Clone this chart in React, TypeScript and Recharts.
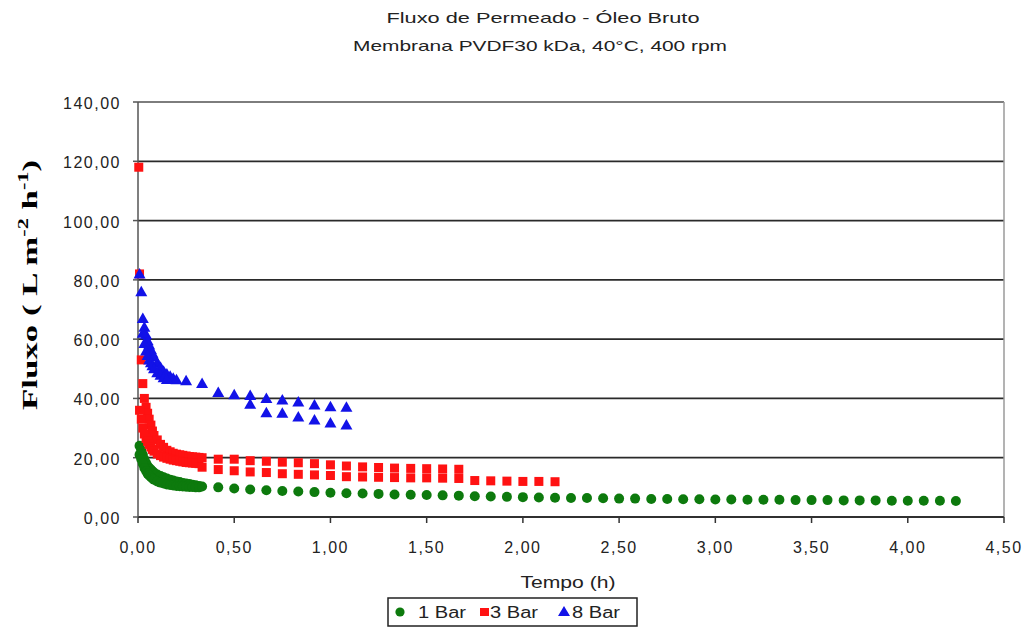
import React from "react";
import {
  ScatterChart,
  Scatter,
  XAxis,
  YAxis,
  CartesianGrid,
  ReferenceLine,
} from "recharts";

// tempo (h) das leituras iniciais (a cada ~30 s) e das leituras a cada 5 min
const TIME_EARLY = [
  0.008, 0.017, 0.025, 0.033, 0.042, 0.05, 0.058, 0.067, 0.075, 0.083, 0.1, 0.117,
  0.133, 0.15, 0.167, 0.183, 0.2, 0.217, 0.233, 0.25, 0.267, 0.283, 0.3, 0.317,
];
const TIME_5MIN = [
  0.25, 0.333, 0.417, 0.5, 0.583, 0.667, 0.75, 0.833, 0.917, 1.0, 1.083, 1.167, 1.25,
  1.333, 1.417, 1.5, 1.583, 1.667, 1.75, 1.833, 1.917, 2.0, 2.083, 2.167, 2.25, 2.333,
  2.417, 2.5, 2.583, 2.667, 2.75, 2.833, 2.917, 3.0, 3.083, 3.167, 3.25, 3.333, 3.417,
  3.5, 3.583, 3.667, 3.75, 3.833, 3.917, 4.0, 4.083, 4.167, 4.25,
];

// 1 Bar
const BAR1_EARLY_A = [
  24, 22.5, 21, 19.5, 18.2, 17.2, 16.5, 16, 15.4, 15, 14.3, 13.8, 13.4, 13, 12.6, 12.3,
  12, 11.8, 11.5, 11.3, 11.1, 10.9, 10.7, 10.5,
];
const BAR1_EARLY_B = [
  21, 19.5, 18, 16.5, 15.5, 14.6, 14, 13.5, 13, 12.6, 12, 11.6, 11.3, 11, 10.8, 10.6,
  10.5, 10.4, 10.3, 10.2, 10.1, 10.1, 10, 10,
];
// a partir de 0,333 h
const BAR1_5MIN = [
  10.3, 10.0, 9.6, 9.3, 9.0, 8.8, 8.6, 8.4, 8.2, 8.0, 7.9, 7.8, 7.6, 7.5, 7.4, 7.3, 7.2,
  7.0, 6.9, 6.8, 6.7, 6.6, 6.5, 6.4, 6.4, 6.3, 6.2, 6.2, 6.1, 6.1, 6.0, 6.0, 5.9, 5.9,
  5.8, 5.8, 5.8, 5.7, 5.7, 5.7, 5.6, 5.6, 5.6, 5.5, 5.5, 5.5, 5.5, 5.4,
];

// 3 Bar
const BAR3_PEAK = { t: 0.004, v: 118 };
const BAR3_EARLY_A = [
  82, 53, 45, 40, 37, 35, 33, 31, 29, 27.5, 26, 24.5, 23.5, 22.5, 22, 21.5, 21.2, 21,
  20.8, 20.6, 20.4, 20.3, 20.2, 20.1,
];
const BAR3_EARLY_B = [
  36, 33, 30, 28, 26.5, 25.5, 24.5, 23.6, 22.8, 22.2, 21.3, 20.7, 20.2, 19.8, 19.5, 19.2,
  19, 18.8, 18.6, 18.4, 18.3, 18.2, 18.1, 18,
];
// a partir de 0,333 h
const BAR3_5MIN_A = [
  20, 19.5, 19.5, 19, 18.8, 18.5, 18.3, 18, 17.6, 17.2, 16.9, 16.7, 16.5, 16.4, 16.3,
  16.2, 16.1, 12.3, 12.2, 12.1, 12.0, 12.0, 11.9,
];
const BAR3_5MIN_B = [
  16.8, 16, 15.6, 15.2, 15, 14.6, 14.4, 14.2, 14, 13.6, 13.5, 13.4, 13.3, 13.2, 13.2,
  13.1, 13.0,
];

// 8 Bar
const BAR8_EARLY_A = [
  82, 76, 67, 64, 61.5, 59.5, 58, 56.5, 55.2, 54, 52, 50.5, 49.2, 48.2, 47.5, 46.8, 46.3,
];
// a partir de 0,025 h
const BAR8_EARLY_B = [62, 58.5, 56, 54.5, 53, 52, 51, 50, 48.7, 47.8, 47, 46.4];
// a partir de 0,25 h
const BAR8_5MIN_A = [46, 45, 42, 41.2, 41, 40, 39.5, 38.8, 37.8, 37.2, 37];
// a partir de 0,583 h
const BAR8_5MIN_B = [38, 35.2, 35, 33.7, 32.7, 31.7, 31];

const X_TICKS = [0, 0.5, 1, 1.5, 2, 2.5, 3, 3.5, 4, 4.5];
const Y_TICKS = [0, 20, 40, 60, 80, 100, 120, 140];

const GREEN = "#0d7a0d";
const RED = "#ff1212";
const BLUE = "#1212e8";
const FONT = "'Liberation Sans', Arial, sans-serif";

const zip = (times: number[], values: number[]) =>
  values.map((v, i) => ({ x: times[i], y: v }));

const bar1 = [
  ...zip(TIME_EARLY, BAR1_EARLY_A),
  ...zip(TIME_EARLY, BAR1_EARLY_B),
  ...zip(TIME_5MIN.slice(1), BAR1_5MIN),
];
const bar3 = [
  { x: BAR3_PEAK.t, y: BAR3_PEAK.v },
  ...zip(TIME_EARLY, BAR3_EARLY_A),
  ...zip(TIME_EARLY, BAR3_EARLY_B),
  ...zip(TIME_5MIN.slice(1), BAR3_5MIN_A),
  ...zip(TIME_5MIN.slice(1), BAR3_5MIN_B),
];
const bar8 = [
  ...zip(TIME_EARLY, BAR8_EARLY_A),
  ...zip(TIME_EARLY.slice(2), BAR8_EARLY_B),
  ...zip(TIME_5MIN, BAR8_5MIN_A),
  ...zip(TIME_5MIN.slice(4), BAR8_5MIN_B),
];

const fmt = (v: number) => v.toFixed(2).replace(".", ",");

const Dot = (p: any) => <circle cx={p.cx} cy={p.cy} r={5} fill={GREEN} />;
const Square = (p: any) => (
  <rect x={p.cx - 4.5} y={p.cy - 4.5} width={9} height={9} fill={RED} />
);
const Triangle = (p: any) => (
  <polygon
    points={`${p.cx},${p.cy - 6} ${p.cx + 6},${p.cy + 4.5} ${p.cx - 6},${p.cy + 4.5}`}
    fill={BLUE}
  />
);

const YTick = ({ x, y, payload }: any) => (
  <text x={x} y={y} dy={7} textAnchor="end" fontSize={16} letterSpacing={1.5} fill="#222" fontFamily={FONT}>
    {fmt(payload.value)}
  </text>
);
const XTick = ({ x, y, payload }: any) => (
  <text x={x} y={y} dy={28} textAnchor="middle" fontSize={16} letterSpacing={1.5} fill="#222" fontFamily={FONT}>
    {fmt(payload.value)}
  </text>
);

export default function App() {
  return (
    <div style={{ position: "absolute", left: 0, top: 0, width: 1026, height: 628, background: "#fff" }}>
      <ScatterChart width={1026} height={628} margin={{ top: 102, right: 22, bottom: 71, left: 0 }}>
        <CartesianGrid horizontal vertical={false} stroke="#2a2a2a" strokeWidth={1.8} />
        <XAxis
          type="number"
          dataKey="x"
          domain={[0, 4.5]}
          ticks={X_TICKS}
          height={40}
          tick={<XTick />}
          tickSize={6}
          axisLine={{ stroke: "#333", strokeWidth: 1.5 }}
          tickLine={{ stroke: "#333", strokeWidth: 1.5 }}
        />
        <YAxis
          type="number"
          dataKey="y"
          domain={[0, 140]}
          ticks={Y_TICKS}
          width={138}
          tick={<YTick />}
          tickSize={5}
          tickMargin={12}
          axisLine={{ stroke: "#555", strokeWidth: 1.5 }}
          tickLine={{ stroke: "#555", strokeWidth: 1.5 }}
        />
        <ReferenceLine y={140} stroke="#9a9a9a" strokeWidth={1.5} />
        <ReferenceLine x={4.5} stroke="#9a9a9a" strokeWidth={1.5} />
        <Scatter name="1 Bar" data={bar1} shape={Dot} isAnimationActive={false} />
        <Scatter name="3 Bar" data={bar3} shape={Square} isAnimationActive={false} />
        <Scatter name="8 Bar" data={bar8} shape={Triangle} isAnimationActive={false} />
      </ScatterChart>
      <svg
        width={1026}
        height={628}
        style={{ position: "absolute", left: 0, top: 0, pointerEvents: "none" }}
      >
        <g fontFamily={FONT} fill="#222" fontSize={15}>
          <text x={543} y={23} textAnchor="middle" textLength={313} lengthAdjust="spacingAndGlyphs">
            Fluxo de Permeado - Óleo Bruto
          </text>
          <text x={540} y={51} textAnchor="middle" textLength={374} lengthAdjust="spacingAndGlyphs">
            Membrana PVDF30 kDa, 40°C, 400 rpm
          </text>
          <text x={568} y={588} textAnchor="middle" fontSize={16} textLength={95} lengthAdjust="spacingAndGlyphs">
            Tempo (h)
          </text>
        </g>
        <text
          transform="translate(37 285) rotate(-90)"
          textAnchor="middle"
          fontFamily="'Liberation Serif', 'Times New Roman', serif"
          fontWeight="bold"
          fontSize={22}
          fill="#000"
          textLength={250}
          lengthAdjust="spacingAndGlyphs"
        >
          Fluxo ( L m
          <tspan fontSize={14} dy={-9}>-2</tspan>
          <tspan dy={9}> h</tspan>
          <tspan fontSize={14} dy={-9}>-1</tspan>
          <tspan dy={9}>)</tspan>
        </text>
        <g fontFamily={FONT} fill="#222" fontSize={16}>
          <rect x={388} y={598} width={249} height={28} fill="#fff" stroke="#222" strokeWidth={1.5} />
          <circle cx={400} cy={612} r={4.6} fill={GREEN} />
          <text x={418} y={618} textLength={48} lengthAdjust="spacingAndGlyphs">1 Bar</text>
          <rect x={480} y={608} width={9} height={8} fill={RED} />
          <text x={490} y={618} textLength={48} lengthAdjust="spacingAndGlyphs">3 Bar</text>
          <polygon points="564,606 570,616 558,616" fill={BLUE} />
          <text x={572} y={618} textLength={48} lengthAdjust="spacingAndGlyphs">8 Bar</text>
        </g>
      </svg>
    </div>
  );
}
